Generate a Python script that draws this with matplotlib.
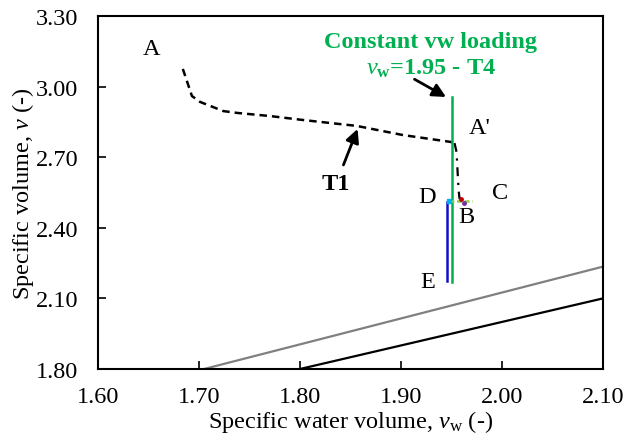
import numpy as np
import matplotlib
matplotlib.use('Agg')
import matplotlib.pyplot as plt

plt.rcParams['font.family'] = ['Liberation Serif', 'DejaVu Serif']
plt.rcParams['mathtext.fontset'] = 'custom'
plt.rcParams['mathtext.it'] = 'Liberation Serif:italic'
plt.rcParams['mathtext.rm'] = 'Liberation Serif'
plt.rcParams['mathtext.bf'] = 'Liberation Serif:bold'

# T1 path (dashed)
t1_vw = [1.684, 1.693, 1.701, 1.724, 1.738, 1.770, 1.803, 1.856, 1.902, 1.949, 1.953]
t1_v = [3.075, 2.960, 2.935, 2.896, 2.888, 2.875, 2.858, 2.833, 2.794, 2.765, 2.760]
# T1 tail A' -> B (dash-dot)
t1b_vw = [1.953, 1.955, 1.957, 1.958]
t1b_v = [2.760, 2.722, 2.561, 2.522]

# constant vw loading T4
t4_vw = [1.950, 1.950]
t4_v = [2.170, 2.955]
# D -> E
de_vw = [1.946, 1.946]
de_v = [2.510, 2.175]
# B -> C
bc_vw = [1.948, 1.970]
bc_v = [2.514, 2.514]

# reference lines
sat_vw = [1.80, 2.10]
sat_v = [1.80, 2.10]
gray_vw = [1.705, 2.10]
gray_v = [1.80, 2.235]

fig = plt.figure(figsize=(6.25, 4.39), dpi=100)
ax = fig.add_axes([0.1568, 0.1572, 0.808, 0.8041])

ax.plot(gray_vw, gray_v, color='#808080', lw=1.6)
ax.plot(sat_vw, sat_v, color='black', lw=1.6)
ax.plot(t1_vw, t1_v, color='black', lw=1.8, ls=(0, (3, 2)))
ax.plot(t1b_vw, t1b_v, color='black', lw=1.6, ls=(0, (4, 3, 1, 3)))
ax.plot(t4_vw, t4_v, color='#00B050', lw=1.8)
ax.plot(de_vw, de_v, color='#1010C8', lw=1.8)
ax.plot(bc_vw, bc_v, color='#92D050', lw=1.8, ls=(0, (2, 1)))
ax.plot([1.948], [2.514], 's', color='#00B0F0', ms=2.5)
ax.plot([1.959], [2.524], 'o', color='#C00000', ms=2.5)
ax.plot([1.962], [2.505], 'o', color='#7030A0', ms=2.5)

ax.set_xlim(1.6, 2.1)
ax.set_ylim(1.8, 3.3)
ax.set_xticks([1.6, 1.7, 1.8, 1.9, 2.0, 2.1])
ax.set_yticks([1.8, 2.1, 2.4, 2.7, 3.0, 3.3])
ax.xaxis.set_major_formatter(matplotlib.ticker.FormatStrFormatter('%.2f'))
ax.yaxis.set_major_formatter(matplotlib.ticker.FormatStrFormatter('%.2f'))
fs = 17.5
ax.tick_params(direction='in', length=6, width=1.2, labelsize=fs)
ax.tick_params(axis='x', pad=12)
ax.tick_params(axis='y', pad=14)
for s in ax.spines.values():
    s.set_linewidth(1.5)

ax.set_xlabel('Specific water volume, $\\mathit{v}_{\\mathrm{w}}$ (-)', fontsize=fs, labelpad=1)
ax.set_ylabel('Specific volume, $\\mathit{v}$ (-)', fontsize=fs, labelpad=0)

ax.text(1.653, 3.160, 'A', fontsize=fs, ha='center', va='center')
ax.text(1.978, 2.828, "A'", fontsize=fs, ha='center', va='center')
ax.text(1.926, 2.535, 'D', fontsize=fs, ha='center', va='center')
ax.text(1.965, 2.446, 'B', fontsize=fs, ha='center', va='center')
ax.text(1.998, 2.548, 'C', fontsize=fs, ha='center', va='center')
ax.text(1.926, 2.170, 'E', fontsize=fs, ha='center', va='center')
ax.text(1.835, 2.590, 'T1', fontsize=fs, fontweight='bold', ha='center', va='center')
ax.text(1.929, 3.192, 'Constant vw loading', fontsize=fs, fontweight='bold',
        color='#00B050', ha='center', va='center')
ax.text(1.930, 3.080, '$\\mathbf{\\mathit{v}_{w}}$=1.95 - T4', fontsize=fs, fontweight='bold',
        color='#00B050', ha='center', va='center')

arrow = dict(arrowstyle='-|>,head_length=0.8,head_width=0.4', color='black', lw=2)
ax.annotate('', xy=(1.858, 2.831), xytext=(1.842, 2.656), arrowprops=arrow)
ax.annotate('', xy=(1.947, 2.95), xytext=(1.911, 3.037), arrowprops=arrow)

fig.savefig('out.png', dpi=100)
